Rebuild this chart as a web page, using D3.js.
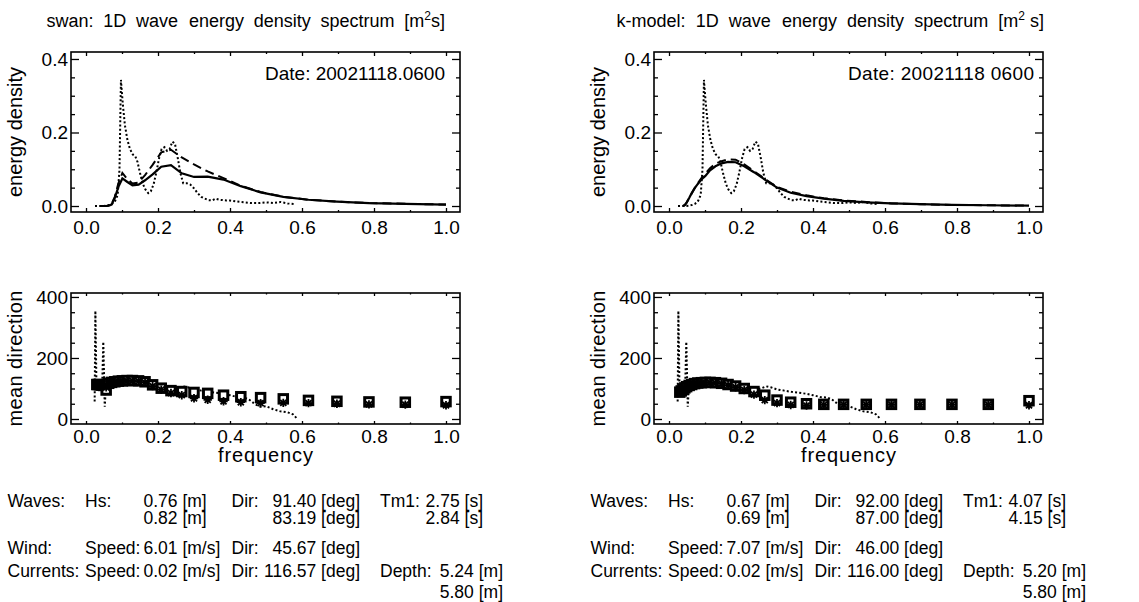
<!DOCTYPE html>
<html>
<head>
<meta charset="utf-8">
<script src="https://cdn.jsdelivr.net/npm/d3@7"></script>
<style>
body { margin: 0; background: #fff; }
text { font-family: "Liberation Sans", Arial, Helvetica, sans-serif; fill: #000; }
</style>
</head>
<body>
<div id="chart"></div>
<script>
// model names / dates shown in the two columns
const models = ["swan", "k-model"];
const dates = ["20021118.0600", "20021118 0600"];

// model frequency bins [Hz]
const freqBins = [0.030, 0.034, 0.039, 0.044, 0.049, 0.056, 0.063, 0.071, 0.080, 0.090,
  0.101, 0.114, 0.129, 0.146, 0.164, 0.185, 0.209, 0.236, 0.266, 0.300,
  0.338, 0.382, 0.430, 0.485, 0.548, 0.618, 0.697, 0.786, 0.887, 1.000];

// energy density, solid / dashed model curves
const swanSolid = [null, null, 0, 0, 0, 0, 0.001, 0.004, 0.022, 0.052,
  0.075, 0.066, 0.056, 0.058, 0.070, 0.086, 0.107, 0.111, 0.089, 0.079,
  0.080, 0.072, 0.054, 0.037, 0.025, 0.017, 0.012, 0.008, 0.006, 0.004];
const swanDashed = [null, null, 0, 0, 0, 0, 0.001, 0.005, 0.025, 0.062,
  0.090, 0.074, 0.061, 0.064, 0.084, 0.112, 0.146, 0.153, 0.132, 0.113,
  0.094, 0.076, 0.055, 0.038, 0.025, 0.017, 0.012, 0.008, 0.006, 0.004];
const kSolid = [null, null, 0, 0.003, 0.010, 0.022, 0.035, 0.048, 0.060, 0.072,
  0.082, 0.097, 0.108, 0.116, 0.120, 0.119, 0.108, 0.092, 0.072, 0.050,
  0.036, 0.027, 0.020, 0.014, 0.010, 0.007, 0.005, 0.003, 0.002, 0.001];
const kDashed = [null, null, 0, 0.002, 0.009, 0.021, 0.034, 0.048, 0.062, 0.076,
  0.088, 0.103, 0.115, 0.122, 0.127, 0.126, 0.113, 0.095, 0.074, 0.052,
  0.039, 0.029, 0.021, 0.015, 0.011, 0.007, 0.005, 0.003, 0.002, 0.001];

// observed spectrum (dotted)
const obsF = [0.025, 0.035, 0.045, 0.055, 0.065, 0.072, 0.080, 0.088, 0.093, 0.097,
  0.102, 0.108, 0.115, 0.122, 0.130, 0.137, 0.143, 0.150, 0.158, 0.165,
  0.173, 0.180, 0.188, 0.195, 0.203, 0.210, 0.218, 0.225, 0.232, 0.240,
  0.247, 0.255, 0.262, 0.270, 0.280, 0.290, 0.300, 0.310, 0.320, 0.330,
  0.340, 0.350, 0.360, 0.370, 0.380, 0.390, 0.400, 0.420, 0.440, 0.460,
  0.480, 0.500, 0.520, 0.540, 0.560, 0.580];
const obsE = [0, 0, 0, 0.001, 0.003, 0.006, 0.012, 0.030, 0.100, 0.343,
  0.280, 0.220, 0.180, 0.155, 0.140, 0.135, 0.120, 0.090, 0.060, 0.045,
  0.035, 0.040, 0.060, 0.090, 0.130, 0.155, 0.160, 0.150, 0.155, 0.175,
  0.170, 0.130, 0.090, 0.062, 0.062, 0.058, 0.048, 0.035, 0.025, 0.020,
  0.016, 0.015, 0.020, 0.017, 0.016, 0.015, 0.015, 0.012, 0.010, 0.008,
  0.008, 0.010, 0.008, 0.011, 0.007, 0.005];

// mean direction: squares and asterisks per bin
const swanSq = [113, 113, 112, 111, 110, 95, 117, 120, 122, 124,
  125, 126, 126, 125, 122, 112, 101, 93, 90, 87,
  84, 78, 73, 70, 66, 61, 58, 56, 55, 57];
const swanAst = [112, 112, 111, 109, 107, 104, 115, 119, 121, 123,
  124, 125, 125, 124, 120, 108, 96, 85, 78, 68,
  63, 58, 55, 52, 53, 52, 50, 48, 47, 45];
const kSq = [88, 92, 97, 102, 106, 110, 113, 116, 118, 119,
  120, 120, 119, 117, 113, 108, 100, 90, 78, 62,
  55, 50, 48, 48, 48, 48, 48, 48, 48, 60];
const kAst = [86, 90, 95, 100, 104, 108, 112, 115, 117, 118,
  119, 119, 118, 116, 111, 104, 95, 80, 62, 52,
  46, 44, 46, 47, 47, 47, 47, 47, 47, 45];

// observed mean direction (dotted)
const obsDirF = [0.024, 0.026, 0.029, 0.031, 0.034, 0.038, 0.042, 0.045, 0.048, 0.050,
  0.052, 0.054, 0.058, 0.065, 0.080, 0.100, 0.120, 0.140, 0.160, 0.180,
  0.200, 0.220, 0.240, 0.255, 0.270, 0.285, 0.300, 0.320, 0.340, 0.360,
  0.380, 0.400, 0.420, 0.440, 0.455, 0.470, 0.485, 0.500, 0.520, 0.540,
  0.560, 0.575, 0.585];
const obsDir = [57, 355, 110, 95, 105, 115, 120, 110, 253, 150,
  40, 80, 105, 115, 120, 122, 124, 123, 120, 115,
  108, 100, 96, 100, 107, 103, 97, 93, 89, 86,
  83, 78, 72, 70, 62, 48, 40, 42, 32, 25,
  22, 15, 3];

// integrated parameters
const hs = [[0.76, 0.82], [0.67, 0.69]];
const waveDir = [[91.40, 83.19], [92.00, 87.00]];
const tm1 = [[2.75, 2.84], [4.07, 4.15]];
const windSpeed = [6.01, 7.07];
const windDir = [45.67, 46.00];
const curSpeed = [0.02, 0.02];
const curDir = [116.57, 116.00];
const depth = [[5.24, 5.80], [5.20, 5.80]];

const xMajor = [0, 0.2, 0.4, 0.6, 0.8, 1.0];
const xMinor = [0.1, 0.3, 0.5, 0.7, 0.9];
const eMajor = [0, 0.2, 0.4];
const eMinor = [0.05, 0.1, 0.15, 0.25, 0.3, 0.35];
const dMajor = [0, 200, 400];
const dMinor = [50, 100, 150, 250, 300, 350];

const svg = d3.select("#chart").append("svg")
  .attr("width", 1139).attr("height", 602);

const colOffset = [0, 583];
const yTop = d3.scaleLinear().domain([-0.0163, 0.419]).range([212, 52]);
const yBot = d3.scaleLinear().domain([-16.4, 413]).range([424, 293]);
const makeX = (dx) => d3.scaleLinear().domain([-0.0417, 1.0389]).range([71 + dx, 460 + dx]);

function frame(x, y, o) {
  const [x0, x1] = x.range();
  const [y1, y0] = y.range();
  const g = svg.append("g");
  const ax = (sel) => {
    sel.select(".domain").remove();
    sel.selectAll("line").attr("stroke-width", 1.3);
    sel.selectAll("text").style("font-size", "19px").attr("font-family", null);
  };
  g.append("g").attr("transform", `translate(0,${y1})`)
    .call(d3.axisBottom(x).tickValues(xMajor).tickFormat(d3.format(".1f"))
      .tickSizeInner(-o.xt).tickSizeOuter(0).tickPadding(o.xPad)).call(ax);
  g.append("g").attr("transform", `translate(0,${y1})`)
    .call(d3.axisBottom(x).tickValues(xMinor).tickFormat("").tickSizeInner(-o.xt / 2).tickSizeOuter(0)).call(ax);
  g.append("g").attr("transform", `translate(0,${y0})`)
    .call(d3.axisTop(x).tickValues(xMajor).tickFormat("").tickSizeInner(-o.xt).tickSizeOuter(0)).call(ax);
  g.append("g").attr("transform", `translate(0,${y0})`)
    .call(d3.axisTop(x).tickValues(xMinor).tickFormat("").tickSizeInner(-o.xt / 2).tickSizeOuter(0)).call(ax);
  g.append("g").attr("transform", `translate(${x0},0)`)
    .call(d3.axisLeft(y).tickValues(o.yMajor).tickFormat(o.yFmt)
      .tickSizeInner(-8).tickSizeOuter(0).tickPadding(3)).call(ax);
  g.append("g").attr("transform", `translate(${x0},0)`)
    .call(d3.axisLeft(y).tickValues(o.yMinor).tickFormat("").tickSizeInner(-4).tickSizeOuter(0)).call(ax);
  g.append("g").attr("transform", `translate(${x1},0)`)
    .call(d3.axisRight(y).tickValues(o.yMajor).tickFormat("").tickSizeInner(-8).tickSizeOuter(0)).call(ax);
  g.append("g").attr("transform", `translate(${x1},0)`)
    .call(d3.axisRight(y).tickValues(o.yMinor).tickFormat("").tickSizeInner(-4).tickSizeOuter(0)).call(ax);
  g.append("rect").attr("x", x0).attr("y", y0).attr("width", x1 - x0).attr("height", y1 - y0)
    .attr("fill", "none").attr("stroke", "#000").attr("stroke-width", 1.6);

  svg.append("text")
    .attr("transform", `translate(${x0 - 49.5},${(y0 + y1) / 2}) rotate(-90)`)
    .attr("text-anchor", "middle").style("font-size", "20px")
    .attr("textLength", o.yLen).attr("lengthAdjust", "spacing")
    .text(o.yLabel);
}

const pairs = (xs, ys) => xs.map((f, i) => [f, ys[i]]);
const lineGen = (x, y) => d3.line().defined((d) => d[1] != null).x((d) => x(d[0])).y((d) => y(d[1]));

function drawCurve(x, y, data, style) {
  svg.append("path").datum(data)
    .attr("d", lineGen(x, y))
    .attr("fill", "none").attr("stroke", "#000")
    .attr("stroke-width", style.w)
    .attr("stroke-dasharray", style.dash);
}

const dotted = { w: 2, dash: "2 2.2" };
const dashed = { w: 2, dash: "9 5" };
const solid = { w: 2.2, dash: null };

// title: one text per word, gaps spread so it spans [left, right]
function spreadTitle(words, left, right, y) {
  const nodes = words.map((w) => {
    const el = svg.append("text").attr("y", y).style("font-size", "18px");
    if (typeof w === "string") { el.text(w); return el; }
    el.append("tspan").text(w[0]);
    el.append("tspan").attr("dy", -7).style("font-size", "12px").text(w[1]);
    el.append("tspan").attr("dy", 7).text(w[2]);
    return el;
  });
  const widths = nodes.map((n) => n.node().getBBox().width);
  const gap = (right - left - d3.sum(widths)) / (nodes.length - 1);
  let cx = left;
  nodes.forEach((n, k) => { n.attr("x", cx); cx += widths[k] + gap; });
}

function drawColumn(i) {
  const dx = colOffset[i];
  const x = makeX(dx);
  const solidE = i === 0 ? swanSolid : kSolid;
  const dashE = i === 0 ? swanDashed : kDashed;
  const sq = i === 0 ? swanSq : kSq;
  const ast = i === 0 ? swanAst : kAst;

  const unit = i === 0 ? ["[m", "2", "s]"] : ["[m", "2", "\u00a0s]"];
  spreadTitle([models[i] + ":", "1D", "wave", "energy", "density", "spectrum", unit],
    i === 0 ? 46.5 : 616.5, i === 0 ? 445 : 1044, 27);

  // energy density panel
  frame(x, yTop, { xt: 4, xPad: 9, yMajor: eMajor, yMinor: eMinor, yFmt: d3.format(".1f"),
    yLabel: "energy density", yLen: 130 });
  drawCurve(x, yTop, pairs(obsF, obsE), dotted);
  drawCurve(x, yTop, pairs(freqBins, dashE), dashed);
  drawCurve(x, yTop, pairs(freqBins, solidE), solid);

  svg.append("text").attr("x", 265 + dx).attr("y", 80)
    .style("font-size", "19px")
    .attr("textLength", i === 0 ? 180 : 186).attr("lengthAdjust", "spacing")
    .text("Date: " + dates[i]);

  // mean direction panel
  frame(x, yBot, { xt: 3, xPad: 5.5, yMajor: dMajor, yMinor: dMinor, yFmt: d3.format("d"),
    yLabel: "mean direction", yLen: 136 });
  drawCurve(x, yBot, pairs(obsDirF, obsDir), dotted);

  svg.append("g").selectAll("rect")
    .data(pairs(freqBins, sq)).enter()
    .append("rect")
    .attr("x", (d) => x(d[0]) - 4.25)
    .attr("y", (d) => yBot(d[1]) - 4.25)
    .attr("width", 8.5).attr("height", 8.5)
    .attr("fill", "#fff").attr("stroke", "#000").attr("stroke-width", 3);

  const r = 4.2, q = r * 0.72;
  svg.append("g").selectAll("path")
    .data(pairs(freqBins, ast)).enter()
    .append("path")
    .attr("transform", (d) => `translate(${x(d[0])},${yBot(d[1])})`)
    .attr("d", `M${-r},0L${r},0M0,${-r}L0,${r}M${-q},${-q}L${q},${q}M${-q},${q}L${q},${-q}`)
    .attr("fill", "none").attr("stroke", "#000").attr("stroke-width", 1.8);

  svg.append("text").attr("x", 265.5 + dx).attr("y", 462)
    .attr("text-anchor", "middle").style("font-size", "20px")
    .attr("textLength", 95).attr("lengthAdjust", "spacing")
    .text("frequency");

  // parameter table
  const rows = [507, 524, 554, 577, 598];
  const t = (px, row, s, anchor) => svg.append("text")
    .attr("x", px + dx).attr("y", rows[row])
    .attr("text-anchor", anchor || "start")
    .style("font-size", "17.5px").text(s);
  const f2 = (v) => v.toFixed(2);

  t(7.5, 0, "Waves:");
  t(85, 0, "Hs:");
  t(143.5, 0, f2(hs[i][0]) + " [m]");
  t(231.5, 0, "Dir:");
  t(360, 0, f2(waveDir[i][0]) + " [deg]", "end");
  t(380, 0, "Tm1:");
  t(483, 0, f2(tm1[i][0]) + " [s]", "end");
  t(143.5, 1, f2(hs[i][1]) + " [m]");
  t(360, 1, f2(waveDir[i][1]) + " [deg]", "end");
  t(483, 1, f2(tm1[i][1]) + " [s]", "end");

  t(7.5, 2, "Wind:");
  t(85, 2, "Speed:");
  t(143.5, 2, f2(windSpeed[i]) + " [m/s]");
  t(231.5, 2, "Dir:");
  t(360, 2, f2(windDir[i]) + " [deg]", "end");

  t(7.5, 3, "Currents:");
  t(85, 3, "Speed:");
  t(143.5, 3, f2(curSpeed[i]) + " [m/s]");
  t(231.5, 3, "Dir:");
  t(360, 3, f2(curDir[i]) + " [deg]", "end");
  t(380, 3, "Depth:");
  t(503, 3, f2(depth[i][0]) + " [m]", "end");
  t(503, 4, f2(depth[i][1]) + " [m]", "end");
}

drawColumn(0);
drawColumn(1);
</script>
</body>
</html>
